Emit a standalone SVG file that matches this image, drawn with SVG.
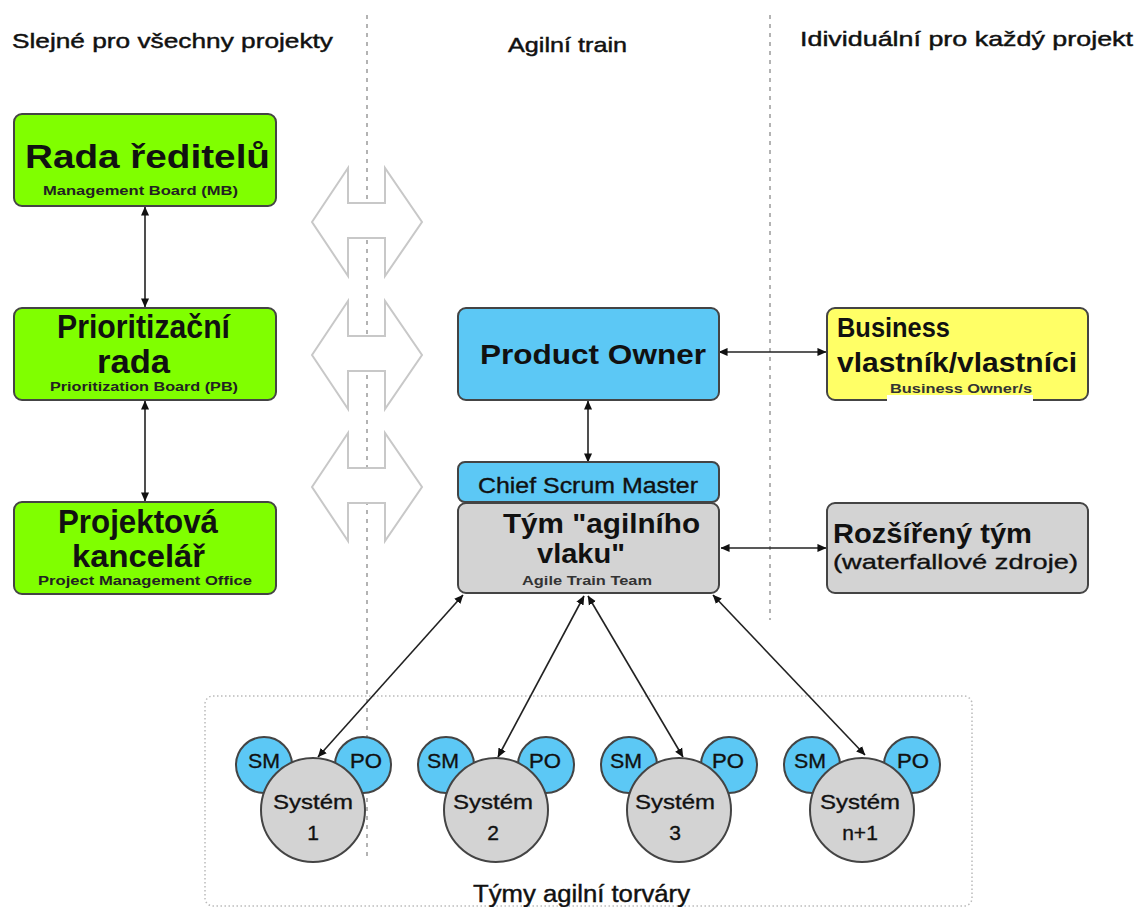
<svg xmlns="http://www.w3.org/2000/svg" width="1136" height="907" viewBox="0 0 1136 907">
  <defs>
    <marker id="ah" viewBox="0 0 10 10" refX="9.5" refY="5" markerWidth="9" markerHeight="9" markerUnits="userSpaceOnUse" orient="auto-start-reverse">
      <path d="M0,0.5 L10,5 L0,9.5 Z" fill="#111"/>
    </marker>
    <style>
      text { font-family: "Liberation Sans", "DejaVu Sans", sans-serif; fill: #111; }
      .hdr { font-size: 21px; stroke: #111; stroke-width: 0.45px; }
      .big { font-size: 34px; font-weight: bold; }
      .mid { font-size: 28px; font-weight: bold; }
      .sub { font-size: 12px; font-weight: bold; fill: #222; }
      .sm  { font-size: 21px; stroke: #111; stroke-width: 0.35px; }
      .box { stroke: #444; stroke-width: 2; }
      .green { fill: #80FF00; }
      .blue { fill: #5CC8F5; }
      .yellow { fill: #FFFF66; }
      .grey { fill: #D3D3D3; }
      .divider { stroke: #9a9a9a; stroke-width: 1.5; stroke-dasharray: 4 5; fill: none; }
      .dotted { stroke: #bbbbbb; stroke-width: 1.5; stroke-dasharray: 1.5 2.5; fill: none; }
      .bigarrow { fill: #fff; stroke: #c8c8c8; stroke-width: 2; }
      .conn { stroke: #222; stroke-width: 1.6; fill: none; marker-start: url(#ah); marker-end: url(#ah); }
      .circ { stroke: #444; stroke-width: 2; }
    </style>
  </defs>

  <rect width="1136" height="907" fill="#fff"/>

  <!-- column headers -->
  <g id="headers">
    <text class="hdr" x="12" y="48" textLength="321" lengthAdjust="spacingAndGlyphs">Slejné pro všechny projekty</text>
    <text class="hdr" x="508" y="52" textLength="119" lengthAdjust="spacingAndGlyphs">Agilní train</text>
    <text class="hdr" x="800" y="46" textLength="333" lengthAdjust="spacingAndGlyphs">Idividuální pro každý projekt</text>
  </g>

  <!-- column dividers -->
  <g id="dividers">
    <line class="divider" x1="367" y1="15" x2="367" y2="860"/>
    <line class="divider" x1="770" y1="15" x2="770" y2="620"/>
  </g>

  <!-- agile teams area -->
  <g id="teams-area">
    <rect class="dotted" x="205" y="696" width="767" height="210" rx="8"/>
    <text x="473" y="902" style="font-size:23px;stroke:#111;stroke-width:0.4px" textLength="217" lengthAdjust="spacingAndGlyphs">Týmy agilní torváry</text>
  </g>

  <!-- hollow double arrows across the left divider -->
  <g id="exchange-arrows">
    <polygon class="bigarrow" points="312,222 348,168 348,203 385,203 385,168 422,222 385,276 385,238 348,238 348,276"/>
    <polygon class="bigarrow" points="312,355 348,301 348,336 385,336 385,301 422,355 385,409 385,371 348,371 348,409"/>
    <polygon class="bigarrow" points="312,487 348,433 348,468 385,468 385,433 422,487 385,541 385,503 348,503 348,541"/>
  </g>

  <!-- connectors -->
  <g id="connectors">
    <line class="conn" x1="145" y1="207" x2="145" y2="307"/>
    <line class="conn" x1="145" y1="401" x2="145" y2="501"/>
    <line class="conn" x1="719" y1="352" x2="826" y2="352"/>
    <line class="conn" x1="588" y1="401" x2="588" y2="462"/>
    <line class="conn" x1="721" y1="548" x2="826" y2="548"/>
    <line class="conn" x1="463" y1="595" x2="318" y2="757"/>
    <line class="conn" x1="584" y1="596" x2="498" y2="757"/>
    <line class="conn" x1="588" y1="596" x2="683" y2="757"/>
    <line class="conn" x1="713" y1="595" x2="865" y2="755"/>
  </g>

  <!-- shared bodies -->
  <g id="management-board">
    <rect class="box green" x="14" y="114" width="262" height="92" rx="8"/>
    <text class="big" x="25" y="168" textLength="245" lengthAdjust="spacingAndGlyphs">Rada ředitelů</text>
    <text class="sub" x="43" y="195" textLength="195" lengthAdjust="spacingAndGlyphs">Management Board (MB)</text>
  </g>
  <g id="prioritization-board">
    <rect class="box green" x="14" y="308" width="262" height="92" rx="8"/>
    <text class="big" x="57" y="338" textLength="173" lengthAdjust="spacingAndGlyphs">Prioritizační</text>
    <text class="big" x="97" y="373" textLength="73" lengthAdjust="spacingAndGlyphs">rada</text>
    <text class="sub" x="50" y="391" textLength="188" lengthAdjust="spacingAndGlyphs">Prioritization Board (PB)</text>
  </g>
  <g id="project-office">
    <rect class="box green" x="14" y="502" width="262" height="92" rx="8"/>
    <text class="big" x="58" y="533" textLength="160" lengthAdjust="spacingAndGlyphs">Projektová</text>
    <text class="big" x="72" y="567" style="font-size:32px" textLength="133" lengthAdjust="spacingAndGlyphs">kancelář</text>
    <text class="sub" x="38" y="585" textLength="214" lengthAdjust="spacingAndGlyphs">Project Management Office</text>
  </g>

  <!-- agile train -->
  <g id="product-owner">
    <rect class="box blue" x="458" y="308" width="261" height="92" rx="8"/>
    <text class="mid" x="480" y="364" textLength="226" lengthAdjust="spacingAndGlyphs">Product Owner</text>
  </g>
  <g id="chief-scrum-master">
    <rect class="box blue" x="458" y="462" width="261" height="40" rx="7"/>
    <text x="478" y="493" style="font-size:22px;stroke:#111;stroke-width:0.35px" textLength="220" lengthAdjust="spacingAndGlyphs">Chief Scrum Master</text>
  </g>
  <g id="train-team">
    <rect class="box grey" x="458" y="503" width="261" height="90" rx="8"/>
    <text class="mid" x="503" y="533" textLength="197" lengthAdjust="spacingAndGlyphs">Tým "agilního</text>
    <text class="mid" x="537" y="563" textLength="88" lengthAdjust="spacingAndGlyphs">vlaku"</text>
    <text class="sub" x="522" y="585" textLength="130" lengthAdjust="spacingAndGlyphs" style="fill:#333">Agile Train Team</text>
  </g>

  <!-- per-project bodies -->
  <g id="business-owner">
    <rect class="box yellow" x="827" y="308" width="261" height="92" rx="8"/>
    <rect x="887" y="395" width="146" height="8" fill="#fff"/>
    <text class="mid" x="837" y="337" textLength="113" lengthAdjust="spacingAndGlyphs">Business</text>
    <text class="mid" x="837" y="372" textLength="240" lengthAdjust="spacingAndGlyphs">vlastník/vlastníci</text>
    <text class="sub" x="890" y="393" textLength="142" lengthAdjust="spacingAndGlyphs" style="fill:#333">Business Owner/s</text>
  </g>
  <g id="extended-team">
    <rect class="box grey" x="827" y="503" width="261" height="90" rx="8"/>
    <text class="mid" x="833" y="543" textLength="199" lengthAdjust="spacingAndGlyphs">Rozšířený tým</text>
    <text x="833" y="569" style="font-size:21px;stroke:#111;stroke-width:0.35px" textLength="245" lengthAdjust="spacingAndGlyphs">(waterfallové zdroje)</text>
  </g>

  <!-- system teams: SM and PO circles behind each system -->
  <g id="system-1">
    <circle class="circ blue" cx="264" cy="765" r="28"/>
    <circle class="circ blue" cx="363" cy="765" r="28"/>
    <circle class="circ grey" cx="313" cy="810" r="52"/>
    <text class="sm" x="264" y="768" text-anchor="middle" textLength="32" lengthAdjust="spacingAndGlyphs">SM</text>
    <text class="sm" x="366" y="768" text-anchor="middle" textLength="32" lengthAdjust="spacingAndGlyphs">PO</text>
    <text class="sm" x="313" y="809" text-anchor="middle" textLength="80" lengthAdjust="spacingAndGlyphs">Systém</text>
    <text class="sm" x="313" y="840" text-anchor="middle">1</text>
  </g>
  <g id="system-2">
    <circle class="circ blue" cx="446" cy="765" r="28"/>
    <circle class="circ blue" cx="546" cy="765" r="28"/>
    <circle class="circ grey" cx="496" cy="810" r="52"/>
    <text class="sm" x="443" y="768" text-anchor="middle" textLength="32" lengthAdjust="spacingAndGlyphs">SM</text>
    <text class="sm" x="545" y="768" text-anchor="middle" textLength="32" lengthAdjust="spacingAndGlyphs">PO</text>
    <text class="sm" x="493" y="809" text-anchor="middle" textLength="80" lengthAdjust="spacingAndGlyphs">Systém</text>
    <text class="sm" x="493" y="840" text-anchor="middle">2</text>
  </g>
  <g id="system-3">
    <circle class="circ blue" cx="629" cy="765" r="28"/>
    <circle class="circ blue" cx="729" cy="765" r="28"/>
    <circle class="circ grey" cx="679" cy="810" r="52"/>
    <text class="sm" x="626" y="768" text-anchor="middle" textLength="32" lengthAdjust="spacingAndGlyphs">SM</text>
    <text class="sm" x="728" y="768" text-anchor="middle" textLength="32" lengthAdjust="spacingAndGlyphs">PO</text>
    <text class="sm" x="675" y="809" text-anchor="middle" textLength="80" lengthAdjust="spacingAndGlyphs">Systém</text>
    <text class="sm" x="675" y="840" text-anchor="middle">3</text>
  </g>
  <g id="system-n1">
    <circle class="circ blue" cx="812" cy="765" r="28"/>
    <circle class="circ blue" cx="912" cy="765" r="28"/>
    <circle class="circ grey" cx="862" cy="810" r="52"/>
    <text class="sm" x="810" y="768" text-anchor="middle" textLength="32" lengthAdjust="spacingAndGlyphs">SM</text>
    <text class="sm" x="913" y="768" text-anchor="middle" textLength="32" lengthAdjust="spacingAndGlyphs">PO</text>
    <text class="sm" x="860" y="809" text-anchor="middle" textLength="80" lengthAdjust="spacingAndGlyphs">Systém</text>
    <text class="sm" x="860" y="840" text-anchor="middle">n+1</text>
  </g>
</svg>
